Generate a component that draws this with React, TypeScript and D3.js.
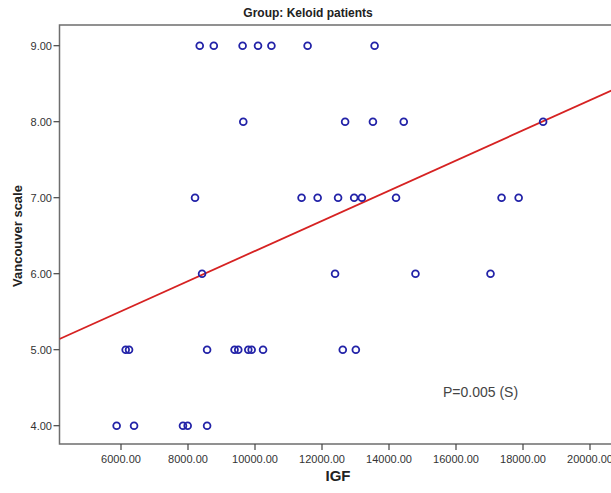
import React, { useRef, useEffect } from "react";
import * as d3 from "d3";

// IGF values grouped by Vancouver score
const scoreLevels = [9, 8, 7, 6, 5, 4];
const igfByScore = [
  [8350, 8770, 9630, 10090, 10490, 11570, 13570],
  [9650, 12690, 13520, 14440, 18600],
  [8210, 11390, 11870, 12480, 12960, 13190, 14210, 17360, 17870],
  [8420, 12390, 14790, 17030],
  [6140, 6240, 8570, 9390, 9500, 9800, 9900, 10240, 12620, 13010],
  [5870, 6390, 7850, 7990, 8570],
];

const xTicks = [6000, 8000, 10000, 12000, 14000, 16000, 18000, 20000];
const yTicks = [4, 5, 6, 7, 8, 9];

// fit line
const fitIntercept = 4.315;
const fitSlope = 0.0001984;

const pLabel = "P=0.005 (S)";

export default function App() {
  const ref = useRef<SVGSVGElement | null>(null);

  useEffect(() => {
    const svg = d3.select(ref.current);
    svg.selectAll("*").remove();

    const width = 611;
    const height = 493;
    const left = 59.5, top = 25, right = 640, bottom = 444;

    const x = d3.scaleLinear().domain([6000, 20000]).range([121, 590]);
    const y = d3.scaleLinear().domain([4, 9]).range([425.7, 45.7]);

    const points = scoreLevels.flatMap((s, i) =>
      igfByScore[i].map(v => ({ igf: v, score: s }))
    );

    svg.append("defs").append("clipPath")
      .attr("id", "plotclip")
      .append("rect")
      .attr("x", left)
      .attr("y", top)
      .attr("width", right - left)
      .attr("height", bottom - top);

    svg.append("rect")
      .attr("width", width)
      .attr("height", height)
      .attr("fill", "#fff");

    // title
    svg.append("text")
      .attr("x", 308)
      .attr("y", 17)
      .attr("text-anchor", "middle")
      .style("font-family", "Liberation Sans, Arial, sans-serif")
      .style("font-weight", "bold")
      .style("font-size", "12px")
      .attr("fill", "#222")
      .text("Group: Keloid patients");

    // frame
    svg.append("path")
      .attr("d", `M${right},${top}H${left}V${bottom}H${right}`)
      .attr("fill", "none")
      .attr("stroke", "#6e6e6e")
      .attr("stroke-width", 1.5);

    // x ticks
    const xg = svg.append("g");
    xTicks.forEach(t => {
      xg.append("line")
        .attr("x1", x(t)).attr("x2", x(t))
        .attr("y1", bottom).attr("y2", bottom + 6)
        .attr("stroke", "#444").attr("stroke-width", 1.2);
      xg.append("text")
        .attr("x", x(t))
        .attr("y", 463)
        .attr("text-anchor", "middle")
        .style("font-family", "Liberation Sans, Arial, sans-serif")
        .style("font-size", "11px")
        .attr("fill", "#333")
        .text(t.toFixed(2));
    });

    // y ticks
    const yg = svg.append("g");
    yTicks.forEach(t => {
      yg.append("line")
        .attr("x1", left - 6).attr("x2", left)
        .attr("y1", y(t)).attr("y2", y(t))
        .attr("stroke", "#444").attr("stroke-width", 1.2);
      yg.append("text")
        .attr("x", 52)
        .attr("y", y(t))
        .attr("dy", "0.35em")
        .attr("text-anchor", "end")
        .style("font-family", "Liberation Sans, Arial, sans-serif")
        .style("font-size", "11px")
        .attr("fill", "#333")
        .text(t.toFixed(2));
    });

    // axis titles
    svg.append("text")
      .attr("x", 338)
      .attr("y", 481)
      .attr("text-anchor", "middle")
      .style("font-family", "Liberation Sans, Arial, sans-serif")
      .style("font-weight", "bold")
      .style("font-size", "15px")
      .attr("fill", "#222")
      .text("IGF");

    svg.append("text")
      .attr("transform", "translate(22,236) rotate(-90)")
      .attr("text-anchor", "middle")
      .style("font-family", "Liberation Sans, Arial, sans-serif")
      .style("font-weight", "bold")
      .style("font-size", "13px")
      .attr("fill", "#222")
      .text("Vancouver scale");

    const plot = svg.append("g").attr("clip-path", "url(#plotclip)");

    // fit line
    const x0 = x.invert(left), x1 = x.invert(right);
    plot.append("line")
      .attr("x1", left)
      .attr("y1", y(fitIntercept + fitSlope * x0))
      .attr("x2", right)
      .attr("y2", y(fitIntercept + fitSlope * x1))
      .attr("stroke", "#d62222")
      .attr("stroke-width", 1.8);

    // points
    plot.selectAll("circle")
      .data(points)
      .enter()
      .append("circle")
      .attr("cx", d => x(d.igf))
      .attr("cy", d => y(d.score))
      .attr("r", 3.4)
      .attr("fill", "none")
      .attr("stroke", "#2323a8")
      .attr("stroke-width", 1.8);

    svg.append("text")
      .attr("x", 443)
      .attr("y", 397)
      .style("font-family", "Liberation Sans, Arial, sans-serif")
      .style("font-size", "14px")
      .attr("fill", "#444")
      .text(pLabel);
  }, []);

  return (
    <svg
      ref={ref}
      width={611}
      height={493}
      style={{ position: "absolute", left: 0, top: 0, display: "block" }}
    />
  );
}
